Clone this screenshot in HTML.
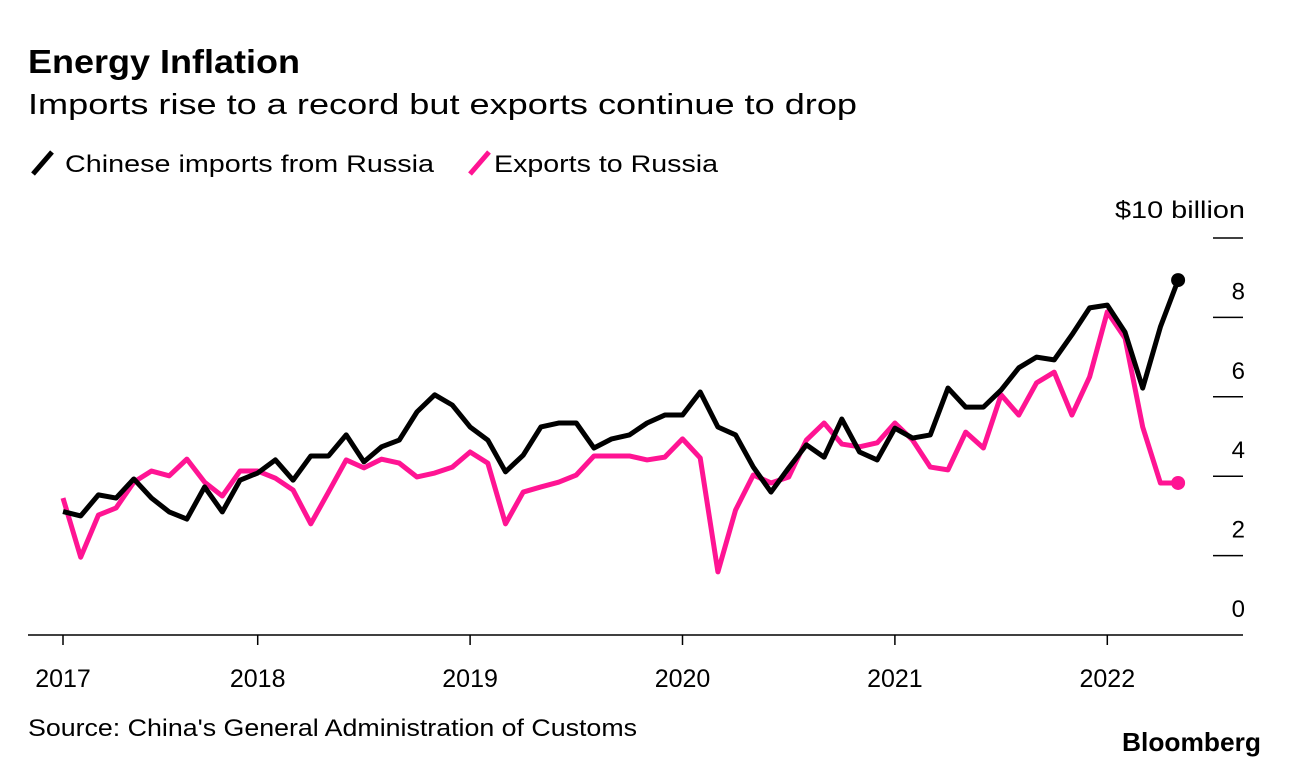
<!DOCTYPE html>
<html><head><meta charset="utf-8"><style>
body{margin:0;background:#fff;font-family:"Liberation Sans",sans-serif;}
svg text{font-family:"Liberation Sans",sans-serif;}
</style></head><body>
<svg id="chart" width="1289" height="768" xmlns="http://www.w3.org/2000/svg">
<text x="28" y="73" font-size="33" font-weight="bold" fill="#000" textLength="272" lengthAdjust="spacingAndGlyphs">Energy Inflation</text>
<text x="28" y="114" font-size="29" fill="#000" textLength="829" lengthAdjust="spacingAndGlyphs">Imports rise to a record but exports continue to drop</text>
<g>
<line x1="33" y1="174" x2="52" y2="152" stroke="#000" stroke-width="5"/>
<text x="65" y="172" font-size="24" textLength="369" lengthAdjust="spacingAndGlyphs">Chinese imports from Russia</text>
<line x1="470" y1="174" x2="489" y2="152" stroke="#ff1493" stroke-width="5"/>
<text x="494" y="172" font-size="24" textLength="224" lengthAdjust="spacingAndGlyphs">Exports to Russia</text>
</g>
<text x="1245" y="218" font-size="24" text-anchor="end" textLength="130" lengthAdjust="spacingAndGlyphs">$10 billion</text>
<g id="yaxis"></g>
<g id="xaxis"></g>
<g id="series"></g>
<text x="28" y="736" font-size="24" textLength="609" lengthAdjust="spacingAndGlyphs">Source: China's General Administration of Customs</text>
<text x="1261" y="751" font-size="26" font-weight="bold" text-anchor="end" textLength="139" lengthAdjust="spacingAndGlyphs">Bloomberg</text>
</svg>
<script>
const years = ["2017","2018","2019","2020","2021","2022"];
const yearIndex = [0,11,23,35,47,59];
const yTicks = [0,2,4,6,8,10];
const imports = [3.11,3.00,3.53,3.45,3.93,3.45,3.10,2.92,3.73,3.10,3.90,4.08,4.41,3.90,4.51,4.51,5.04,
4.36,4.74,4.91,5.62,6.05,5.79,5.24,4.91,4.11,4.53,5.24,5.34,5.34,4.71,4.94,5.04,
5.34,5.54,5.54,6.12,5.24,5.04,4.23,3.60,4.21,4.79,4.48,5.44,4.61,4.41,5.21,
4.96,5.04,6.22,5.74,5.74,6.17,6.73,7.00,6.93,7.56,8.24,8.31,7.63,6.22,7.76,8.94];
const exportsRu = [3.45,1.96,3.02,3.20,3.85,4.13,4.01,4.43,3.85,3.50,4.13,4.13,3.95,3.65,2.80,3.60,4.41,
4.21,4.43,4.33,3.98,4.08,4.23,4.61,4.33,2.80,3.60,3.73,3.85,4.03,4.51,4.51,4.51,
4.41,4.48,4.94,4.46,1.59,3.15,4.03,3.83,3.98,4.91,5.34,4.81,4.74,4.84,5.34,
4.91,4.23,4.16,5.11,4.71,6.05,5.54,6.35,6.62,5.54,6.50,8.14,7.48,5.24,3.83,3.83];
const NS="http://www.w3.org/2000/svg";
const x = i => 63 + i*17.7;
const y = v => 635 - v*39.7;
function mk(tag, attrs, parent){const e=document.createElementNS(NS,tag);for(const k in attrs)e.setAttribute(k,attrs[k]);parent.appendChild(e);return e;}
const ya=document.getElementById('yaxis');
yTicks.forEach(t=>{
  if(t>0){const l=mk('line',{x1:1213,x2:1243,y1:y(t),y2:y(t),stroke:'#000','stroke-width':1.5},ya);
  
  }
  if(t<10){const tx=mk('text',{x:1245,y:y(t)-18,'font-size':24,'text-anchor':'end'},ya);tx.textContent=t;
  
  }
});
const xa=document.getElementById('xaxis');
const base=mk('line',{x1:28,x2:1243,y1:635,y2:635,stroke:'#000','stroke-width':1.5},xa);


years.forEach((yr,k)=>{
  const xx=x(yearIndex[k]);
  const tk=mk('line',{x1:xx,x2:xx,y1:635,y2:645,stroke:'#000','stroke-width':1.5},xa);
  
  
  const tx=mk('text',{x:xx,y:687,'font-size':25,'text-anchor':'middle'},xa);tx.textContent=yr;
  
  
});
const sg=document.getElementById('series');
function draw(arr,color,name){
  const p=mk('polyline',{points:arr.map((v,i)=>x(i)+','+y(v)).join(' '),fill:'none',stroke:color,'stroke-width':5,'stroke-linejoin':'round'},sg);
  
  
  const n=arr.length-1;
  const c=mk('circle',{cx:x(n),cy:y(arr[n]),r:7,fill:color},sg);
  
  
}
draw(exportsRu,'#ff1493','exports');
draw(imports,'#000','imports');
</script>
</body></html>
